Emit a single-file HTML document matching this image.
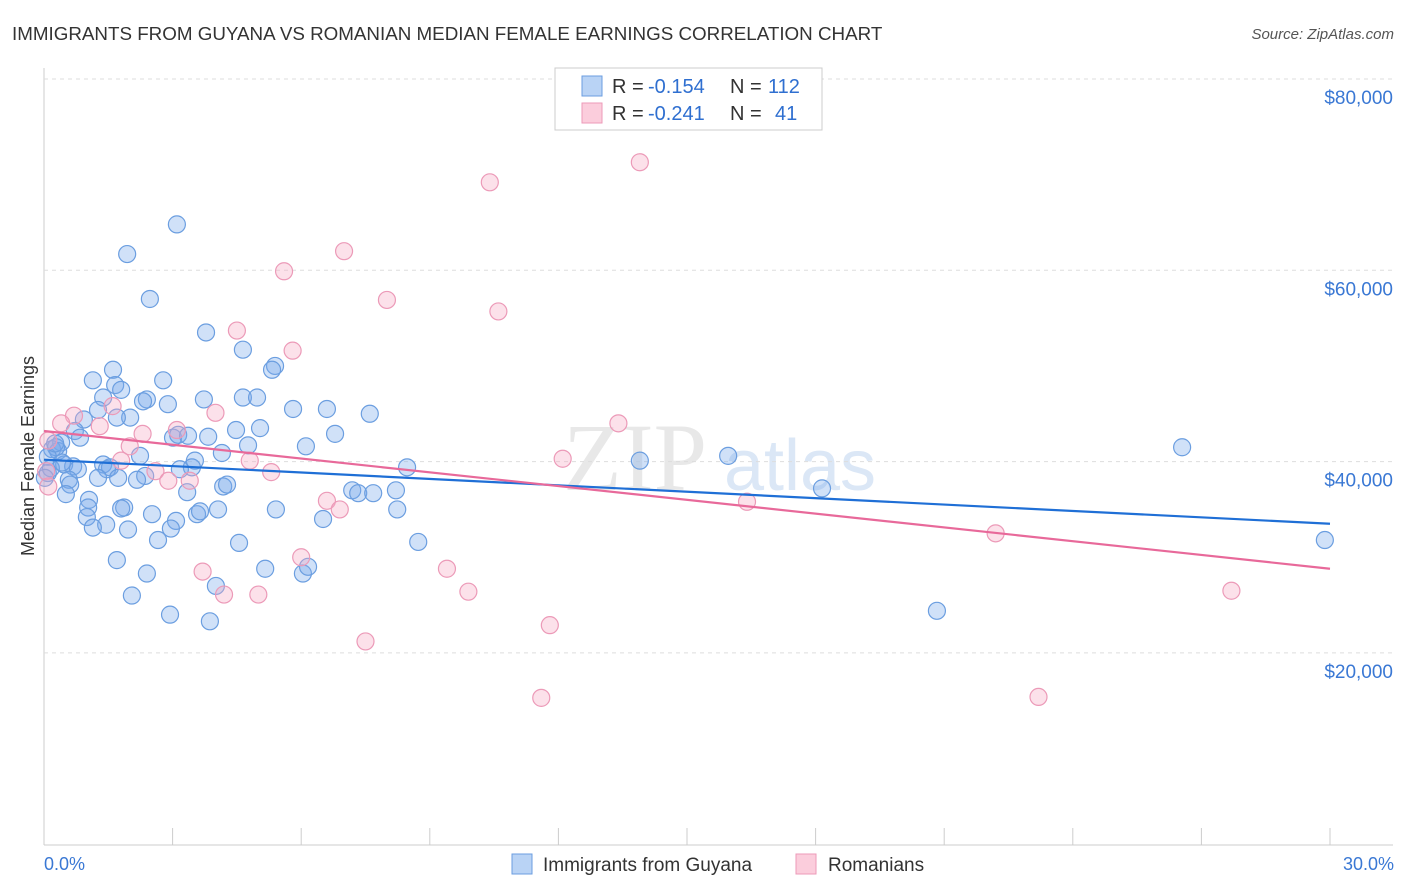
<!DOCTYPE html>
<html><head><meta charset="utf-8"><style>
body{margin:0;background:#fff;font-family:"Liberation Sans",sans-serif}
svg{display:block}
</style></head><body>
<svg id="c" width="1406" height="892">
<text x="12" y="40" font-size="18.8" fill="#333">IMMIGRANTS FROM GUYANA VS ROMANIAN MEDIAN FEMALE EARNINGS CORRELATION CHART</text>
<text x="1394" y="39" font-size="15" fill="#555" font-style="italic" text-anchor="end">Source: ZipAtlas.com</text>
<text x="635" y="490" font-size="96" fill="#e8e8e8" font-family="Liberation Serif" text-anchor="middle">ZIP</text>
<text x="800" y="490" font-size="72" fill="#dbe7f6" text-anchor="middle">atlas</text>
<text transform="translate(34,456) rotate(-90)" font-size="18" fill="#333" text-anchor="middle">Median Female Earnings</text>
<g id="grid"></g><g id="pts"></g><g id="lines"></g>
<text x="44" y="870" font-size="18" fill="#3a78d4">0.0%</text>
<text x="1394" y="870" font-size="18" fill="#3a78d4" text-anchor="end">30.0%</text>
<g>
<rect x="555" y="68" width="267" height="62" fill="#fff" stroke="#ccc"/>
<rect x="582" y="76" width="20" height="20" fill="#b9d3f5" stroke="#6b9ee0"/>
<rect x="582" y="103" width="20" height="20" fill="#fbcddc" stroke="#ec9ab8"/>
<text y="93" font-size="20" fill="#333"><tspan x="612">R =</tspan><tspan x="648" fill="#2f6fd0">-0.154</tspan><tspan x="730">N =</tspan><tspan x="768" fill="#2f6fd0">112</tspan></text>
<text y="120" font-size="20" fill="#333"><tspan x="612">R =</tspan><tspan x="648" fill="#2f6fd0">-0.241</tspan><tspan x="730">N =</tspan><tspan x="775" fill="#2f6fd0">41</tspan></text>
</g>
<g>
<rect x="512" y="854" width="20" height="20" fill="#b9d3f5" stroke="#6b9ee0"/>
<text x="543" y="871" font-size="19" fill="#333">Immigrants from Guyana</text>
<rect x="796" y="854" width="20" height="20" fill="#fbcddc" stroke="#ec9ab8"/>
<text x="828" y="871" font-size="19" fill="#333">Romanians</text>
</g>
</svg>
<script>
const yTicks=[20000,40000,60000,80000];
const yTickLabels=["$20,000","$40,000","$60,000","$80,000"];
const blueX=[1.94,3.10,2.47,3.78,4.64,5.39,5.32,1.61,1.14,2.78,1.66,1.80,1.38,2.40,2.31,2.89,3.73,4.64,4.97,5.81,6.60,7.60,2.01,1.70,0.93,1.26,0.40,0.19,0.33,0.72,0.84,3.01,3.13,3.36,3.83,4.48,5.04,6.79,6.11,4.76,0.28,0.09,0.47,0.68,0.79,1.38,1.54,1.47,2.24,2.36,3.52,3.45,3.17,4.15,4.18,4.27,3.34,2.17,1.73,1.26,0.58,0.61,0.51,1.05,1.03,1.00,1.87,1.80,2.52,3.57,3.64,4.06,3.08,2.96,1.45,1.14,1.96,2.66,4.55,5.41,6.51,7.19,7.33,7.68,8.21,8.24,8.73,8.47,1.70,2.40,5.16,6.04,6.16,2.05,4.01,2.94,3.87,13.90,15.96,18.15,20.83,26.55,29.88,0.09,0.16,0.26,0.42,0.02];
const blueY=[61.7,64.8,57.0,53.5,51.7,50.0,49.6,49.6,48.5,48.5,48.0,47.5,46.7,46.5,46.3,46.0,46.5,46.7,46.7,45.5,45.5,45.0,44.6,44.6,44.4,45.4,42.0,41.3,41.1,43.2,42.5,42.5,42.8,42.7,42.6,43.3,43.5,42.9,41.6,41.7,41.5,40.5,39.7,39.5,39.2,39.7,39.4,39.2,40.6,38.5,40.1,39.4,39.2,40.9,37.4,37.6,36.8,38.1,38.3,38.3,38.1,37.6,36.6,36.0,35.2,34.2,35.2,35.1,34.5,34.5,34.8,35.0,33.8,33.0,33.4,33.1,32.9,31.8,31.5,35.0,34.0,37.0,36.7,36.7,37.0,35.0,31.6,39.4,29.7,28.3,28.8,28.3,29.0,26.0,27.0,24.0,23.3,40.1,40.6,37.2,24.4,41.5,31.8,38.8,39.3,41.9,39.9,38.3];
const pinkX=[13.9,10.4,7.0,5.6,8.0,10.6,4.5,5.8,4.0,1.6,1.3,0.7,0.4,0.1,0.05,0.1,3.1,2.3,2.0,1.8,2.6,2.9,3.4,4.8,5.3,6.6,6.9,6.0,3.7,4.2,5.0,9.4,9.9,7.5,11.8,11.6,12.1,13.4,16.4,22.2,23.2,27.7];
const pinkY=[71.3,69.2,62.0,59.9,56.9,55.7,53.7,51.6,45.1,45.8,43.7,44.8,44.0,42.2,39.0,37.4,43.3,42.9,41.6,40.1,39.0,38.0,38.0,40.1,38.9,35.9,35.0,30.0,28.5,26.1,26.1,28.8,26.4,21.2,22.9,15.3,40.3,44.0,35.8,32.5,15.4,26.5];
const blueLine=[40200,33500];
const pinkLine=[43200,28800];
const NS='http://www.w3.org/2000/svg';
const X=p=>44+p/30*1286;
const Y=v=>844.2-v/20000*191.3;
const grid=document.getElementById('grid'),pts=document.getElementById('pts'),lines=document.getElementById('lines');
function mk(tag,a,parent){const e=document.createElementNS(NS,tag);for(const k in a)e.setAttribute(k,a[k]);parent.appendChild(e);return e;}
let ax=mk('line',{x1:44,y1:68,x2:44,y2:845,stroke:'#ccc'},grid);


let bx=mk('line',{x1:44,y1:845,x2:1393,y2:845,stroke:'#ccc'},grid);


for(let i=0;i<=10;i++){const t=mk('line',{x1:X(i*3),y1:828,x2:X(i*3),y2:845,stroke:'#ccc'},grid);

}
yTicks.forEach((v,i)=>{const g=mk('line',{x1:44,y1:Y(v),x2:1393,y2:Y(v),stroke:'#ddd','stroke-dasharray':'4,4'},grid);


const t=mk('text',{x:1393,y:Y(v)+25,'font-size':19,fill:'#3a78d4','text-anchor':'end'},grid);t.textContent=yTickLabels[i];

});
blueX.forEach((x,i)=>{const c=mk('circle',{cx:X(x),cy:Y(blueY[i]*1000),r:8.5,fill:'rgba(120,168,235,0.35)',stroke:'#6b9ee0','stroke-width':1.2},pts);

});
pinkX.forEach((x,i)=>{const c=mk('circle',{cx:X(x),cy:Y(pinkY[i]*1000),r:8.5,fill:'rgba(245,170,195,0.35)',stroke:'#ec9ab8','stroke-width':1.2},pts);

});
let l1=mk('line',{x1:X(0),y1:Y(blueLine[0]),x2:X(30),y2:Y(blueLine[1]),stroke:'#1f6fd6','stroke-width':2.2},lines);


let l2=mk('line',{x1:X(0),y1:Y(pinkLine[0]),x2:X(30),y2:Y(pinkLine[1]),stroke:'#e8699a','stroke-width':2.2},lines);


</script>
</body></html>
